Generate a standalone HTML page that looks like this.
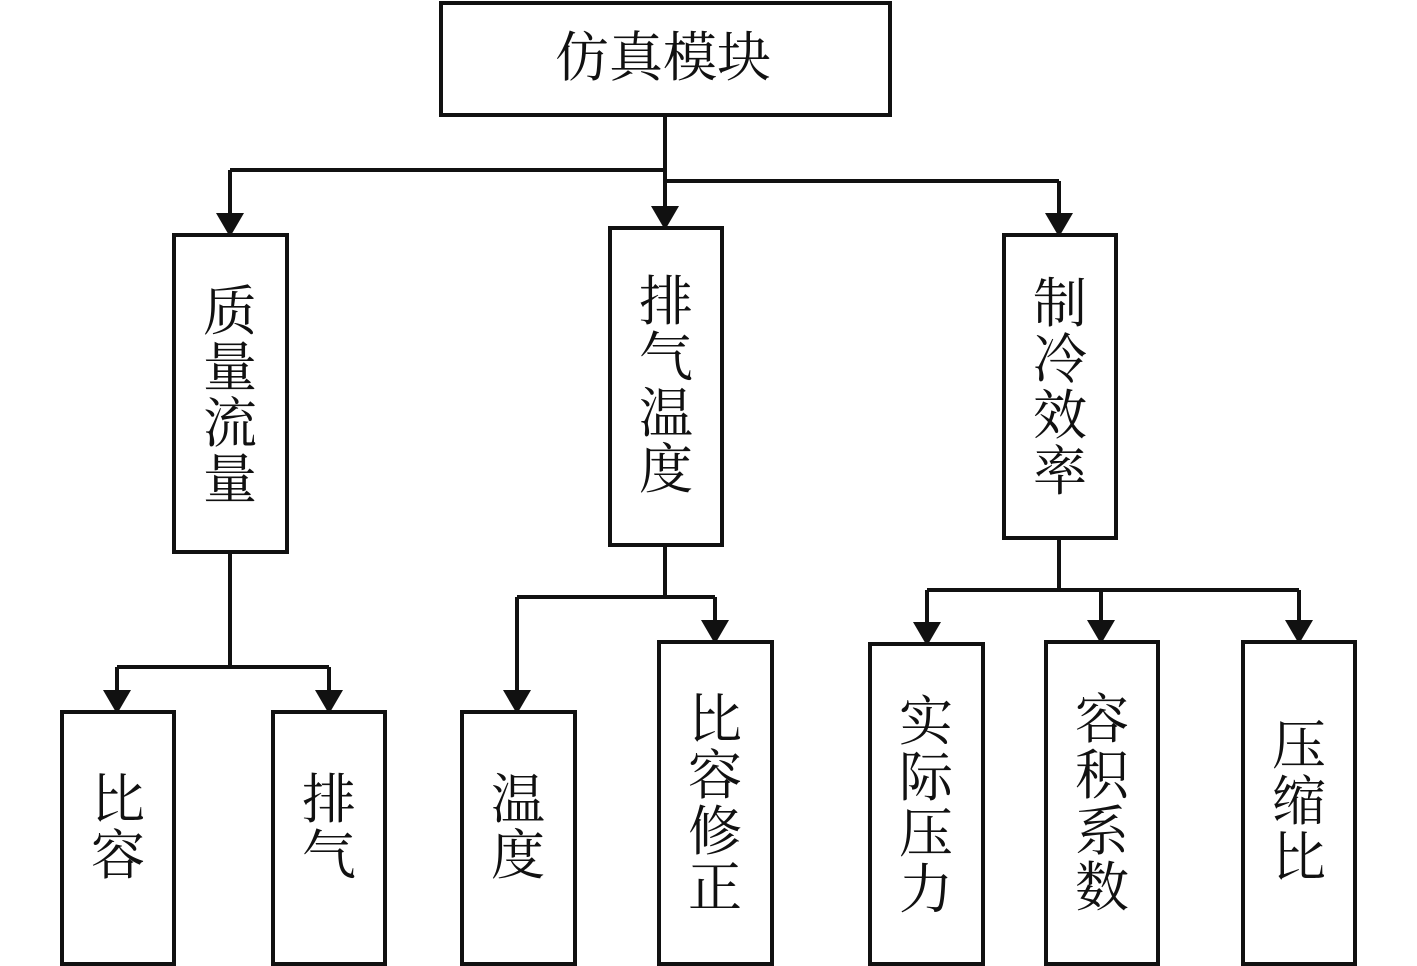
<!DOCTYPE html>
<html><head><meta charset="utf-8"><style>html,body{margin:0;padding:0;background:#fff}svg{display:block}</style></head>
<body>
<svg width="1417" height="966" viewBox="0 0 1417 966" xmlns="http://www.w3.org/2000/svg">
<defs>
<marker id="a" markerWidth="6" markerHeight="7" refX="5" refY="3.5" orient="auto" markerUnits="strokeWidth">
<path d="M0,0 L6,3.5 L0,7 z" fill="#111"/></marker>
</defs>
<g fill="none" stroke="#111" stroke-width="4">
<rect x="441" y="3" width="449" height="112"/>
<rect x="174" y="235" width="113" height="317"/>
<rect x="610" y="228" width="112" height="317"/>
<rect x="1004" y="235" width="112" height="303"/>
<rect x="62" y="712" width="112" height="252"/>
<rect x="273" y="712" width="112" height="252"/>
<rect x="462" y="712" width="113" height="252"/>
<rect x="659" y="642" width="113" height="322"/>
<rect x="870" y="644" width="113" height="320"/>
<rect x="1046" y="642" width="112" height="322"/>
<rect x="1243" y="642" width="112" height="322"/>
<path d="M665,115 V181 M665,170 H230 M665,181 H1059"/>
<path d="M230,170 V233" marker-end="url(#a)"/>
<path d="M665,181 V226" marker-end="url(#a)"/>
<path d="M1059,181 V233" marker-end="url(#a)"/>
<path d="M230,552 V667 M117,667 H329"/>
<path d="M117,667 V710" marker-end="url(#a)"/>
<path d="M329,667 V710" marker-end="url(#a)"/>
<path d="M665,545 V597 M517,597 H715"/>
<path d="M517,597 V710" marker-end="url(#a)"/>
<path d="M715,597 V640" marker-end="url(#a)"/>
<path d="M1059,538 V590 M927,590 H1299"/>
<path d="M927,590 V642" marker-end="url(#a)"/>
<path d="M1101,590 V640" marker-end="url(#a)"/>
<path d="M1299,590 V640" marker-end="url(#a)"/>
</g>
<g font-family="'Liberation Serif','Noto Serif CJK SC',serif" font-size="54" fill="#111" text-anchor="middle" dominant-baseline="central">
<text x="663" y="58">仿真模块</text>
<text x="230" y="312">质</text><text x="230" y="368">量</text><text x="230" y="424">流</text><text x="230" y="480">量</text>
<text x="666" y="302">排</text><text x="666" y="358">气</text><text x="666" y="414">温</text><text x="666" y="470">度</text>
<text x="1060" y="304">制</text><text x="1060" y="360">冷</text><text x="1060" y="416">效</text><text x="1060" y="472">率</text>
<text x="118" y="800">比</text><text x="118" y="856">容</text>
<text x="329" y="800">排</text><text x="329" y="856">气</text>
<text x="518" y="800">温</text><text x="518" y="856">度</text>
<text x="715" y="720">比</text><text x="715" y="776">容</text><text x="715" y="832">修</text><text x="715" y="888">正</text>
<text x="926" y="722">实</text><text x="926" y="778">际</text><text x="926" y="834">压</text><text x="926" y="890">力</text>
<text x="1102" y="720">容</text><text x="1102" y="776">积</text><text x="1102" y="832">系</text><text x="1102" y="888">数</text>
<text x="1299" y="746">压</text><text x="1299" y="802">缩</text><text x="1299" y="858">比</text>
</g>
</svg>
</body></html>
